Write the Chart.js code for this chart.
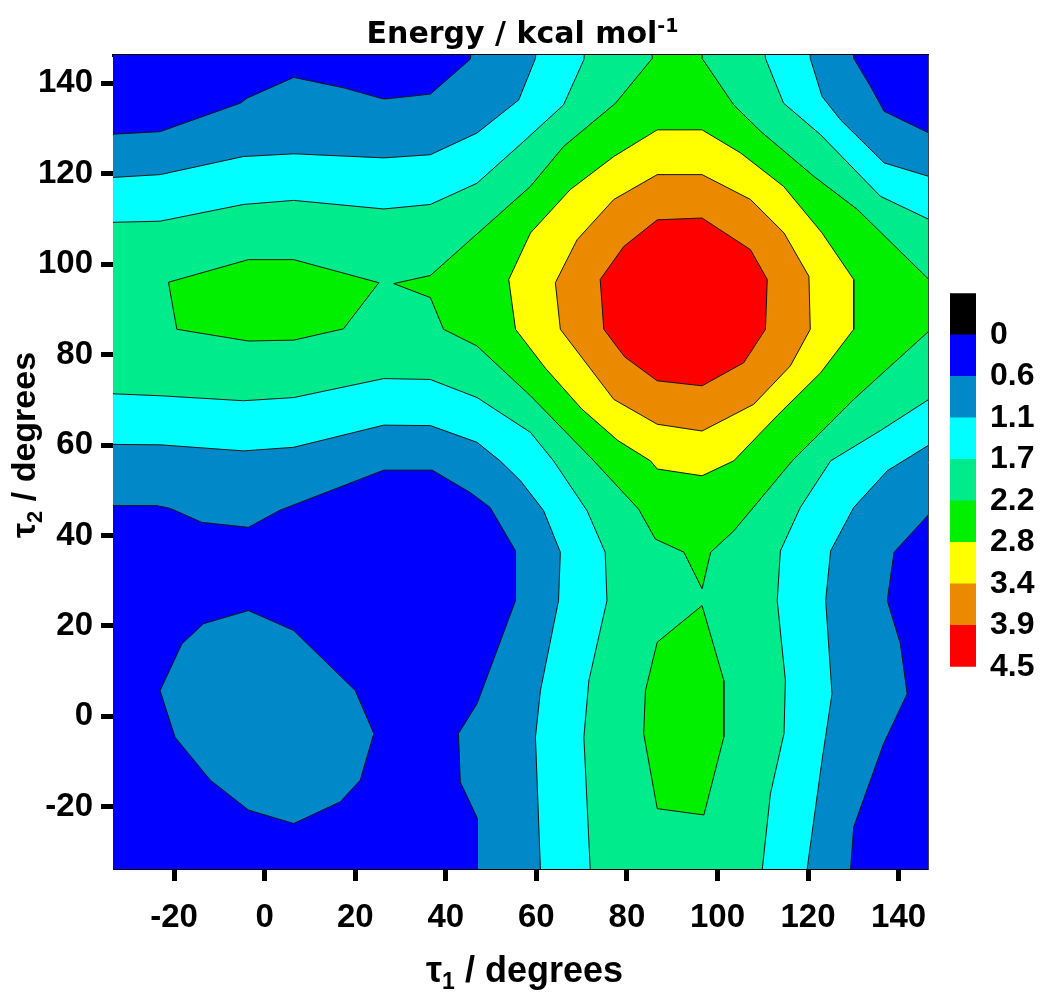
<!DOCTYPE html>
<html>
<head>
<meta charset="utf-8">
<script src="https://cdn.jsdelivr.net/npm/chart.js@4.4.0/dist/chart.umd.min.js"></script>
<style>
  html, body { margin: 0; padding: 0; background: #fff; }
  #wrap { position: relative; width: 1050px; height: 1002px; }
  #main { position: absolute; left: 0; top: 0; }
  #bar { position: absolute; left: 950px; top: 260px; }
</style>
</head>
<body>
<div id="wrap">
  <canvas id="main" width="1050" height="1002"></canvas>
  <canvas id="bar" width="100" height="440"></canvas>
</div>
<script>
// energy levels (kcal/mol) shown on the colour bar, top to bottom
const levels = ['0', '0.6', '1.1', '1.7', '2.2', '2.8', '3.4', '3.9', '4.5'];
const levelColors = ['#000000', '#0000ff', '#0088c9', '#00ffff', '#00eb8c', '#00f000', '#ffff00', '#eb8a00', '#ff0000'];

const xTicks = [-20, 0, 20, 40, 60, 80, 100, 120, 140];
const yTicks = [-20, 0, 20, 40, 60, 80, 100, 120, 140];
const xRange = [-33.5, 146.5];
const yRange = [-33.75, 146.25];

// contour regions, [tau1, tau2] in degrees
const baseArea = [[-40, -40], [155, -40], [155, 155], [-40, 155]];
const band06 = [[-40, 128.4], [-23.1, 129.3], [-5.4, 135.6], [-3.9, 136.7], [6.4, 141.3], [17.4, 139.0], [26.3, 136.5], [36.6, 137.6], [45.4, 145.3], [46.3, 152],
  [130.0, 152], [130.1, 145.5], [133.8, 139.3], [136.8, 133.8], [146.7, 129.0], [152, 126.5],
  [152, 50.5], [146.7, 44.7], [139.0, 36.3], [137.5, 25.6], [140.4, 16.0], [141.9, 5.0], [136.7, -6.0], [130.1, -24.4], [129.4, -33.8], [129.3, -40],
  [47.1, -40], [47.1, -33.8], [46.9, -22.6], [43.2, -14.5], [42.8, -3.8], [46.9, 2.8], [55.4, 25.6], [55.4, 36.6], [49.8, 46.2], [45.4, 49.5], [37.0, 54.45], [26.3, 54.45], [3.4, 45.6], [-3.6, 41.8], [-13.9, 42.9], [-20.9, 46.0], [-23.8, 46.6], [-40, 46.6]];
const island06 = [[-3.6, 23.4], [6.4, 19.0], [20.0, 5.7], [24.1, -3.8], [21.1, -14.1], [16.7, -18.9], [6.4, -23.7], [-3.6, -20.7], [-12.0, -14.1], [-19.8, -4.6], [-23.1, 5.7], [-18.3, 16.0], [-13.5, 20.5]];
const band11 = [[-40, 118.8], [-23.1, 119.8], [-4.7, 123.8], [6.4, 124.4], [26.3, 123.5], [36.6, 124.2], [46.9, 129.0], [56.1, 136.3], [59.8, 145.5], [60.4, 152],
  [120.2, 152], [120.5, 145.5], [123.1, 137.1], [127.2, 131.9], [136.8, 122.4], [146.7, 119.4], [152, 118.0],
  [152, 61.5], [146.7, 60.0], [137.5, 54.3], [130.1, 46.2], [125.0, 36.6], [123.9, 25.6], [125.3, 5.0], [123.1, -9.7], [119.8, -33.8], [119.6, -40],
  [60.9, -40], [60.9, -33.8], [59.8, -4.6], [60.9, 5.7], [64.9, 25.6], [65.3, 36.3], [61.6, 45.5], [56.5, 52.1], [52.0, 56.5], [46.9, 60.6], [36.6, 64.3], [26.3, 64.4], [6.4, 59.5], [-4.7, 58.7], [-23.1, 60.05], [-40, 60.2]];
const band17 = [[-40, 109.1], [-23.1, 109.5], [-4.7, 113.2], [6.4, 114.1], [26.3, 112.2], [36.6, 113.2], [46.9, 117.9], [56.5, 126.5], [66.0, 135.2], [70.5, 145.2], [71.0, 152],
  [110.2, 152], [110.6, 145.5], [114.6, 135.6], [122.8, 128.6], [136.0, 115.0], [146.7, 109.9], [152, 107.5],
  [152, 73.5], [146.7, 70.1], [136.0, 63.2], [125.0, 56.5], [118.3, 46.2], [113.9, 36.6], [113.2, 25.6], [115.0, 8.0], [114.7, -3.8], [111.7, -17.1], [109.9, -33.8], [109.8, -40],
  [71.9, -40], [71.9, -33.8], [70.5, -4.6], [71.6, 7.9], [75.6, 25.6], [75.2, 36.3], [71.2, 45.5], [63.8, 56.5], [58.7, 62.8], [46.9, 70.5], [36.6, 74.5], [26.3, 74.7], [6.4, 70.5], [-4.7, 69.8], [-23.1, 70.9], [-40, 71.6]];
const ridge22 = [[85.6, 145.5], [85.2, 152], [97.0, 152], [96.6, 145.5], [103.6, 135.2], [109.5, 129.4], [121.3, 119.4], [130.9, 112.1], [146.7, 96.6], [152, 92],
  [152, 80], [146.7, 85.2], [130.1, 70.1], [116.5, 56.5], [103.6, 41.0], [98.5, 36.3], [96.6, 28.2], [92.6, 36.3], [86.3, 39.2], [82.6, 45.8], [72.7, 56.5],
  [58.7, 70.9], [46.9, 81.9], [39.5, 85.6], [36.6, 92.6], [28.5, 95.7], [36.6, 97.5], [58.7, 117.2], [66.0, 126.0], [77.5, 135.6]];
const islandLeft22 = [[-21.25, 96.0], [-3.6, 101.0], [6.4, 101.0], [25.2, 95.9], [17.4, 85.7], [6.4, 83.2], [-3.6, 83.0], [-19.4, 85.6]];
const islandLow22 = [[96.6, 24.5], [101.4, 7.95], [101.4, -4.6], [97.0, -21.8], [86.7, -20.4], [83.7, -3.8], [84.1, 5.7], [86.7, 16.4]];
const peak28 = [[86.7, 129.7], [96.6, 129.7], [105.1, 124.6], [114.6, 117.2], [123.1, 106.9], [130.1, 96.6], [130.1, 85.6], [122.8, 76.0], [113.2, 66.5], [103.6, 56.5],
  [96.6, 53.2], [86.7, 54.7], [85.2, 56.5], [78, 61], [70, 68], [62, 77], [55.4, 85.6], [53.9, 96.6], [58.7, 106.9], [67.5, 116.5], [77.1, 123.8]];
const peak34 = [[86.7, 119.8], [96.6, 119.8], [107.3, 114.3], [114.7, 106.9], [120.2, 97.3], [120.5, 85.6], [116.1, 77.5], [108.0, 69.0], [96.6, 63.1], [86.7, 64.6],
  [77.1, 70.1], [65.3, 85.6], [64.2, 95.9], [69.0, 105.4], [77.1, 114.3]];
const peak39 = [[86.7, 109.8], [96.6, 110.2], [107.3, 103.2], [111.0, 96.6], [110.6, 85.6], [105.8, 78.2], [96.6, 73.1], [86.7, 74.2], [79.5, 79.5], [74.9, 85.6], [74.1, 96.6], [79.3, 103.9]];

// painting order: lower energy first, each region filled with the colour of its level
const regions = [
  { level: 1, pts: baseArea, edge: false },
  { level: 2, pts: band06 },
  { level: 2, pts: island06 },
  { level: 3, pts: band11 },
  { level: 4, pts: band17 },
  { level: 5, pts: ridge22 },
  { level: 5, pts: islandLeft22 },
  { level: 5, pts: islandLow22 },
  { level: 6, pts: peak28 },
  { level: 7, pts: peak34 },
  { level: 8, pts: peak39 }
];

const AREA = { left: 113, top: 55, right: 928, bottom: 869 };
const FONT = '"Liberation Sans", Arial, sans-serif';
Chart.defaults.font.family = FONT;
Chart.defaults.font.weight = 'bold';
Chart.defaults.color = '#000';

const datasets = regions.map((r, i) => ({
  data: r.pts.concat([r.pts[0]]).map(([x, y]) => ({ x, y })),
  backgroundColor: levelColors[r.level],
  borderColor: r.edge === false ? 'rgba(0,0,0,0)' : '#141414',
  borderWidth: r.edge === false ? 0 : 1,
  fill: 'shape',
  pointRadius: 0,
  pointHoverRadius: 0,
  tension: 0,
  order: regions.length - i
}));

function drawRich(ctx, parts, x, y) {
  // parts: [{t, size, dy}] drawn left to right, centred on x
  let total = 0;
  parts.forEach(p => {
    ctx.font = 'bold ' + p.size + 'px ' + (p.family || FONT);
    p.w = ctx.measureText(p.t).width;
    total += p.w;
  });
  let cx = x - total / 2;
  parts.forEach(p => {
    ctx.font = 'bold ' + p.size + 'px ' + (p.family || FONT);
    ctx.fillText(p.t, cx, y + (p.dy || 0));
    cx += p.w;
  });
}

const labelsPlugin = {
  id: 'labels',
  afterDraw(chart) {
    const ctx = chart.ctx;
    const a = chart.chartArea;
    const mid = (a.left + a.right) / 2;
    ctx.save();
    ctx.fillStyle = '#000';
    ctx.textAlign = 'left';
    ctx.textBaseline = 'alphabetic';
    const titleFam = '"DejaVu Sans", "Liberation Sans", sans-serif';
    drawRich(ctx, [
      { t: 'Energy / kcal mol', size: 30, family: titleFam },
      { t: '-1', size: 19, dy: -11, family: titleFam }
    ], mid + 2, 43);
    drawRich(ctx, [
      { t: 'τ', size: 36 },
      { t: '1', size: 23, dy: 7 },
      { t: ' / degrees', size: 36 }
    ], mid + 4, 982);
    ctx.translate(35, 445);
    ctx.rotate(-Math.PI / 2);
    drawRich(ctx, [
      { t: 'τ', size: 34 },
      { t: '2', size: 22, dy: 7 },
      { t: ' / degrees', size: 34 }
    ], 0, 0);
    ctx.restore();
  }
};

const tickGrid = { display: true, drawOnChartArea: false, drawTicks: true, tickLength: 12, tickWidth: 5, tickColor: '#000' };

new Chart(document.getElementById('main'), {
  type: 'line',
  data: { datasets },
  options: {
    responsive: false,
    animation: false,
    events: [],
    layout: { padding: { top: AREA.top, right: 1050 - AREA.right, left: 0, bottom: 0 } },
    plugins: { legend: { display: false }, tooltip: { enabled: false } },
    scales: {
      x: {
        type: 'linear', position: 'bottom', min: xRange[0], max: xRange[1],
        afterBuildTicks: s => { s.ticks = xTicks.map(v => ({ value: v })); },
        afterFit: s => { s.height = 1002 - AREA.bottom; },
        ticks: { font: { size: 33 }, padding: 17, maxRotation: 0, autoSkip: false },
        grid: tickGrid,
        border: { display: true, color: '#000', width: 1 }
      },
      y: {
        type: 'linear', position: 'left', min: yRange[0], max: yRange[1],
        afterBuildTicks: s => { s.ticks = yTicks.map(v => ({ value: v })); },
        afterFit: s => { s.width = AREA.left; },
        ticks: { font: { size: 33 }, padding: 8, autoSkip: false },
        grid: tickGrid,
        border: { display: true, color: '#000', width: 1 }
      },
      x2: {
        type: 'linear', position: 'top', min: xRange[0], max: xRange[1],
        afterFit: s => { s.height = 0; },
        ticks: { display: false },
        grid: { display: false, drawTicks: false },
        border: { display: true, color: '#000', width: 3 }
      },
      y2: {
        type: 'linear', position: 'right', min: yRange[0], max: yRange[1],
        afterFit: s => { s.width = 0; },
        ticks: { display: false },
        grid: { display: false, drawTicks: false },
        border: { display: true, color: '#444', width: 1 }
      }
    }
  },
  plugins: [labelsPlugin]
});

// colour bar: one stacked bar, red block at the bottom
const barBlocks = levelColors.map((c, i) => i).reverse();
new Chart(document.getElementById('bar'), {
  type: 'bar',
  data: {
    labels: [''],
    datasets: barBlocks.map(i => ({
      data: [1],
      backgroundColor: levelColors[i],
      borderWidth: 0,
      barPercentage: 1,
      categoryPercentage: 1
    }))
  },
  options: {
    responsive: false,
    animation: false,
    events: [],
    layout: { padding: { top: 31.7, bottom: 30, left: 0, right: 0 } },
    plugins: { legend: { display: false }, tooltip: { enabled: false } },
    scales: {
      x: { display: false, stacked: true },
      y: {
        stacked: true, position: 'right', min: 0, max: 9,
        afterBuildTicks: s => { s.ticks = levels.map((_, i) => ({ value: 8 - i })); },
        afterFit: s => { s.width = 74; },
        ticks: { font: { size: 32 }, padding: 14, callback: v => levels[8 - v] },
        grid: { display: false, drawTicks: false },
        border: { display: false }
      }
    }
  }
});
</script>
</body>
</html>
